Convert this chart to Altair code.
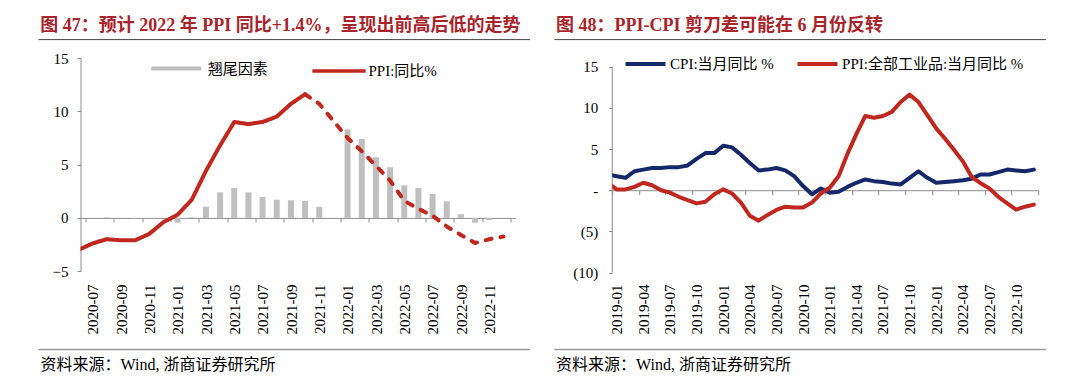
import json
import altair as alt
import pandas as pd

RED = "#C0281F"
NAVY = "#14286A"
GRAY_BAR = "#BFBFBF"
AXIS_GRAY = "#8C8C8C"
TITLE_RED = "#A8242B"
SERIF = "Liberation Serif, Noto Sans CJK SC"

left_title = "图 47：预计 2022 年 PPI 同比+1.4%，呈现出前高后低的走势"
right_title = "图 48：PPI-CPI 剪刀差可能在 6 月份反转"
source_text = "资料来源：Wind, 浙商证券研究所"

# ---------------- left chart data ----------------
left_months = ["2020-06", "2020-07", "2020-08", "2020-09", "2020-10", "2020-11", "2020-12",
               "2021-01", "2021-02", "2021-03", "2021-04", "2021-05", "2021-06",
               "2021-07", "2021-08", "2021-09", "2021-10", "2021-11", "2021-12",
               "2022-01", "2022-02", "2022-03", "2022-04", "2022-05", "2022-06",
               "2022-07", "2022-08", "2022-09", "2022-10", "2022-11", "2022-12"]
left_ppi = [-3.0, -2.4, -2.0, -2.1, -2.1, -1.5, -0.4,
            0.3, 1.7, 4.4, 6.8, 9.0, 8.8,
            9.0, 9.5, 10.7, 11.6, 10.7, 9.1,
            7.5, 6.25, 4.9, 3.5, 1.6, 0.85,
            0.2, -0.8, -1.6, -2.35, -2.0, -1.75]
forecast_from = "2021-10"
tail_values = [0.0, 0.05, 0.0, -0.05, 0.0, 0.0,
               -0.45, 0.05, 1.05, 2.4, 2.8, 2.4,
               1.95, 1.7, 1.65, 1.6, 1.05, 0.0,
               8.3, 7.4, 5.7, 4.75, 3.05, 2.8,
               2.25, 1.55, 0.35, -0.45, -0.2, 0.0]
left_tick_labels = ["2020-07", "2020-09", "2020-11", "2021-01", "2021-03", "2021-05",
                    "2021-07", "2021-09", "2021-11", "2022-01", "2022-03", "2022-05",
                    "2022-07", "2022-09", "2022-11"]
bar_name = "翘尾因素"
left_line_name = "PPI:同比%"

# ---------------- right chart data ----------------
right_months = ["2018-12",
                "2019-01", "2019-02", "2019-03", "2019-04", "2019-05", "2019-06",
                "2019-07", "2019-08", "2019-09", "2019-10", "2019-11", "2019-12",
                "2020-01", "2020-02", "2020-03", "2020-04", "2020-05", "2020-06",
                "2020-07", "2020-08", "2020-09", "2020-10", "2020-11", "2020-12",
                "2021-01", "2021-02", "2021-03", "2021-04", "2021-05", "2021-06",
                "2021-07", "2021-08", "2021-09", "2021-10", "2021-11", "2021-12",
                "2022-01", "2022-02", "2022-03", "2022-04", "2022-05", "2022-06",
                "2022-07", "2022-08", "2022-09", "2022-10", "2022-11", "2022-12"]
right_cpi = [1.9,
             1.7, 1.5, 2.3, 2.5, 2.7, 2.7, 2.8, 2.8, 3.0, 3.8, 4.5, 4.5,
             5.4, 5.2, 4.3, 3.3, 2.4, 2.5, 2.7, 2.4, 1.7, 0.5, -0.5, 0.2,
             -0.3, -0.2, 0.4, 0.9, 1.3, 1.1, 1.0, 0.8, 0.7, 1.5, 2.3, 1.5,
             0.9, 1.0, 1.1, 1.2, 1.4, 1.9, 1.9, 2.2, 2.5, 2.4, 2.3, 2.5]
right_ppi = [0.9,
             0.1, 0.1, 0.4, 0.9, 0.6, 0.0, -0.3, -0.8, -1.2, -1.6, -1.4, -0.5,
             0.1, -0.4, -1.5, -3.1, -3.7, -3.0, -2.4, -2.0, -2.1, -2.1, -1.5, -0.4,
             0.3, 1.7, 4.4, 6.8, 9.0, 8.8, 9.0, 9.5, 10.7, 11.6, 10.7, 9.1,
             7.5, 6.25, 4.9, 3.5, 1.6, 0.85, 0.2, -0.8, -1.6, -2.35, -2.0, -1.75]
right_tick_labels = ["2019-01", "2019-04", "2019-07", "2019-10", "2020-01", "2020-04",
                     "2020-07", "2020-10", "2021-01", "2021-04", "2021-07", "2021-10",
                     "2022-01", "2022-04", "2022-07", "2022-10"]
cpi_name = "CPI:当月同比 %"
ppi_name = "PPI:全部工业品:当月同比 %"

# ---------------- layout constants (pixels) ----------------
LW, LH = 435, 213.2
RW, RH = 426.1, 214.6
L_N = len(left_months) - 1      # 30 categories
R_N = len(right_months) - 1     # 48 categories
R_YTOP = 15 + (RH - 206.0) / (206.0 / 25.0)   # extra headroom so plot tops align

# ---------------- left dataframes ----------------
bar_df = pd.DataFrame({
    "pos": list(range(len(tail_values))),
    "v": tail_values,
    "name": bar_name,
})
f_idx = left_months.index(forecast_from)
rows = []
for i, (m, v) in enumerate(zip(left_months, left_ppi)):
    pos = i - 1
    if i <= f_idx:
        rows.append({"pos": pos, "v": v, "seg": "actual", "name": left_line_name})
    if i >= f_idx:
        rows.append({"pos": pos, "v": v, "seg": "forecast", "name": left_line_name})
lline_df = pd.DataFrame(rows)

lx_scale = alt.Scale(domain=[-0.5, L_N - 0.5], nice=False, zero=False)
ly_scale = alt.Scale(domain=[-5, 15], nice=False, zero=False)

left_x_axis = alt.Axis(
    values=[-0.5 + 2 * k for k in range(L_N // 2 + 1)],
    labelExpr=json.dumps(left_tick_labels) + "[round((datum.value + 0.5) / 2)] || ''",
    labelAngle=-90, labelOffset=LW / L_N / 2, labelFlush=False, labelOverlap=False,
    offset=-(LH * 5 / 20), tickSize=4, labelPadding=62.2,
    domainColor=AXIS_GRAY, tickColor=AXIS_GRAY, grid=False,
    labelFont=SERIF, labelFontSize=15, labelColor="#000", title=None)
left_y_axis = alt.Axis(
    values=[-5, 0, 5, 10, 15], tickSize=3.5, labelPadding=9, grid=False,
    domainColor=AXIS_GRAY, tickColor=AXIS_GRAY, labelFlush=False,
    labelFont=SERIF, labelFontSize=15, labelColor="#000", title=None)

bars = alt.Chart(bar_df).mark_bar(size=6).encode(
    x=alt.X("pos:Q", scale=lx_scale, axis=left_x_axis),
    y=alt.Y("v:Q", scale=ly_scale, axis=left_y_axis),
    fill=alt.Fill("name:N", title=None,
                  scale=alt.Scale(domain=[bar_name], range=[GRAY_BAR]),
                  legend=alt.Legend(orient="none", legendX=70.7, legendY=-14.4,
                                    symbolType="M-1,-0.08L1,-0.08L1,0.08L-1,0.08Z",
                                    symbolSize=2500, symbolStrokeWidth=0,
                                    labelFont=SERIF, labelFontSize=15, labelColor="#000",
                                    labelOffset=6.6, padding=0, labelLimit=300)),
)

lline = alt.Chart(lline_df).mark_line(strokeWidth=4, clip=True, strokeJoin="round",
                                      strokeCap="round").encode(
    x=alt.X("pos:Q", scale=lx_scale, axis=left_x_axis),
    y=alt.Y("v:Q", scale=ly_scale, axis=left_y_axis),
    stroke=alt.Stroke("name:N", title=None,
                      scale=alt.Scale(domain=[left_line_name], range=[RED]),
                      legend=alt.Legend(orient="none", legendX=230, legendY=-15.5,
                                        symbolType="stroke", symbolSize=2840,
                                        symbolStrokeWidth=3.5,
                                        labelFont=SERIF, labelFontSize=15, labelColor="#000",
                                        labelOffset=1, padding=0, labelLimit=300)),
    strokeDash=alt.StrokeDash("seg:N", scale=alt.Scale(domain=["actual", "forecast"],
                                                       range=[[1, 0], [6, 9]]),
                              legend=None),
)


def text_layer(txt, x, y, size, weight="normal", color="#000"):
    return alt.Chart(pd.DataFrame({"t": [txt]})).mark_text(
        align="left", baseline="middle", font=SERIF, fontSize=size,
        fontWeight=weight, color=color).encode(
        text="t:N", x=alt.value(x), y=alt.value(y))


def hrule(x1, x2, y, color, width):
    return alt.Chart(pd.DataFrame({"a": [0]})).mark_rule(
        color=color, strokeWidth=width).encode(
        x=alt.value(x1), x2=alt.value(x2), y=alt.value(y))


left = alt.layer(
    bars, lline,
    text_layer(left_title, -40.2, -32.4, 18, "bold", TITLE_RED),
    hrule(-42, 449.6, -18.4, "#444444", 1),
    hrule(-42, 449.6, 291.6, "#9A9A9A", 1.5),
    text_layer(source_text, -40, 306.6, 16),
).properties(width=LW, height=LH)

# ---------------- right dataframes ----------------
rrows = []
for i, m in enumerate(right_months):
    rrows.append({"pos": i - 1, "v": right_cpi[i], "name": cpi_name})
for i, m in enumerate(right_months):
    rrows.append({"pos": i - 1, "v": right_ppi[i], "name": ppi_name})
rline_df = pd.DataFrame(rrows)

rx_scale = alt.Scale(domain=[-0.5, R_N - 0.5], nice=False, zero=False)
ry_scale = alt.Scale(domain=[-10, R_YTOP], nice=False, zero=False)
ry_unit = RH / (R_YTOP + 10)

right_x_axis = alt.Axis(
    values=[-0.5 + 3 * k for k in range(R_N // 3 + 1)],
    labelExpr=json.dumps(right_tick_labels) + "[round((datum.value + 0.5) / 3)] || ''",
    labelAngle=-90, labelOffset=RW / R_N / 2, labelFlush=False, labelOverlap=False,
    offset=-(10 * ry_unit), tickSize=4.5, labelPadding=89.2,
    domainColor=AXIS_GRAY, tickColor=AXIS_GRAY, grid=False,
    labelFont=SERIF, labelFontSize=15, labelColor="#000", title=None)
NB = "\u00a0"
right_y_axis = alt.Axis(
    values=[-10, -5, 0, 5, 10, 15], tickSize=3.5, labelPadding=11, grid=False,
    domain=False, tickColor=AXIS_GRAY, labelFlush=False,
    labelExpr=("datum.value > 0 ? datum.value + '" + NB + "' : (datum.value == 0 ? '-"
               + NB + "' : '(' + abs(datum.value) + ')')"),
    labelFont=SERIF, labelFontSize=15, labelColor="#000", title=None)

ry_domain_line = alt.Chart(pd.DataFrame({"pos": [-0.5], "v": [-10], "v2": [15]})).mark_rule(
    color=AXIS_GRAY, strokeWidth=1).encode(
    x=alt.X("pos:Q", scale=rx_scale, axis=right_x_axis),
    y=alt.Y("v:Q", scale=ry_scale, axis=right_y_axis),
    y2="v2:Q",
)

rlines = alt.Chart(rline_df).mark_line(strokeWidth=4, clip=True, strokeJoin="round",
                                       strokeCap="round").encode(
    x=alt.X("pos:Q", scale=rx_scale, axis=right_x_axis),
    y=alt.Y("v:Q", scale=ry_scale, axis=right_y_axis),
    stroke=alt.Stroke("name:N", title=None,
                      scale=alt.Scale(domain=[cpi_name, ppi_name], range=[NAVY, RED]),
                      legend=alt.Legend(orient="none", legendX=11.3, legendY=-15.9,
                                        direction="horizontal",
                                        symbolType="stroke", symbolSize=1600,
                                        symbolStrokeWidth=4, columnPadding=15,
                                        labelFont=SERIF, labelFontSize=15, labelColor="#000",
                                        labelOffset=2.6, padding=0, labelLimit=300)),
)

right = alt.layer(
    ry_domain_line, rlines,
    text_layer(right_title, -56.1, -32.4, 18, "bold", TITLE_RED),
    hrule(-57.9, 433.7, -18.4, "#444444", 1),
    hrule(-57.9, 433.7, 291.5, "#9A9A9A", 1.5),
    text_layer(source_text, -56.1, 306.6, 16),
).properties(width=RW, height=RH)

chart = alt.hconcat(left, right, spacing=96.7, bounds="flush").resolve_scale(
    stroke="independent", fill="independent", strokeDash="independent"
).properties(
    padding={"left": 29.5, "top": 8, "right": 4, "bottom": 4}
).configure_view(stroke=None)

chart.save("out.html", embed_options={"renderer": "svg", "actions": False})
